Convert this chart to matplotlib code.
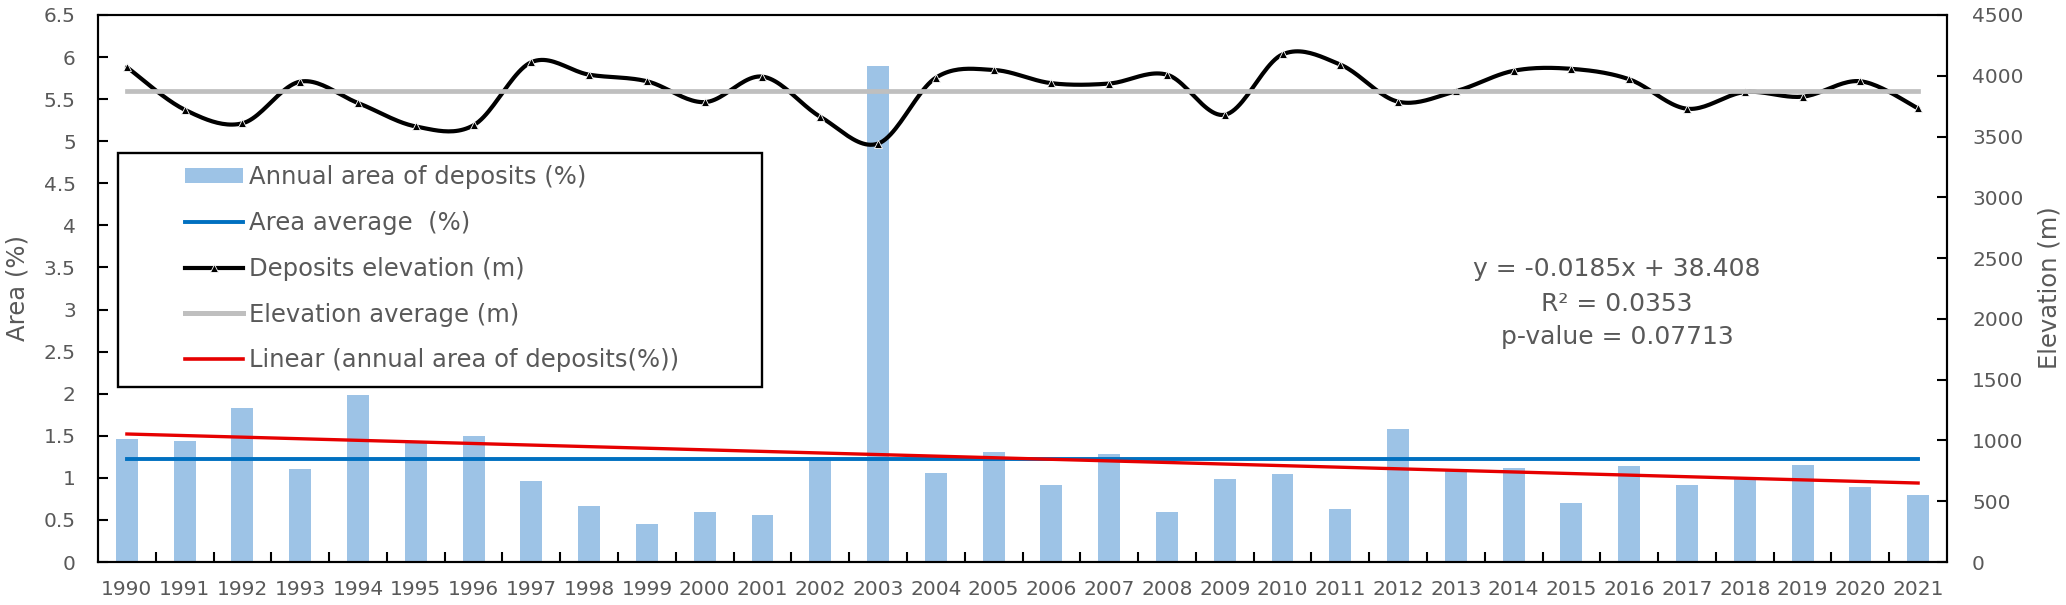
import numpy as np
import matplotlib
matplotlib.use("Agg")
import matplotlib.pyplot as plt
from matplotlib.patches import Rectangle
from matplotlib.lines import Line2D
from matplotlib.patches import Patch

# ---------------- data ----------------
years = [1990, 1991, 1992, 1993, 1994, 1995, 1996, 1997, 1998, 1999, 2000,
         2001, 2002, 2003, 2004, 2005, 2006, 2007, 2008, 2009, 2010, 2011,
         2012, 2013, 2014, 2015, 2016, 2017, 2018, 2019, 2020, 2021]
area_pct = [1.46, 1.44, 1.83, 1.10, 1.99, 1.43, 1.50, 0.96, 0.66, 0.45, 0.60,
            0.56, 1.25, 5.89, 1.06, 1.31, 0.92, 1.28, 0.60, 0.99, 1.05, 0.63,
            1.58, 1.09, 1.12, 0.70, 1.14, 0.92, 1.00, 1.15, 0.89, 0.80]
elevation_m = [4071, 3721, 3609, 3952, 3776, 3583, 3593, 4112, 4009, 3955, 3783,
               3993, 3663, 3442, 3984, 4048, 3939, 3936, 4009, 3679, 4176, 4092,
               3787, 3873, 4041, 4057, 3971, 3729, 3866, 3828, 3955, 3732]
left_ticks = [0, 0.5, 1, 1.5, 2, 2.5, 3, 3.5, 4, 4.5, 5, 5.5, 6, 6.5]
left_tick_labels = ["0", "0.5", "1", "1.5", "2", "2.5", "3", "3.5", "4",
                    "4.5", "5", "5.5", "6", "6.5"]
right_ticks = [0, 500, 1000, 1500, 2000, 2500, 3000, 3500, 4000, 4500]
legend_labels = ["Annual area of deposits (%)", "Area average  (%)",
                 "Deposits elevation (m)", "Elevation average (m)",
                 "Linear (annual area of deposits(%))"]
stats_lines = ["y = -0.0185x + 38.408", "R\u00b2 = 0.0353", "p-value = 0.07713"]

TXT = "#595959"
W, H = 2066, 605


def smooth_curve(xs, ys, n=24):
    """Excel-like smoothed line (cardinal Bezier through the points)."""
    xs = np.asarray(xs, float)
    ys = np.asarray(ys, float)
    px = np.concatenate([[xs[0]], xs, [xs[-1]]])
    py = np.concatenate([[ys[0]], ys, [ys[-1]]])
    outx, outy = [], []
    t = np.linspace(0, 1, n)
    for i in range(1, len(px) - 2):
        p0 = np.array([px[i], py[i]])
        p3 = np.array([px[i + 1], py[i + 1]])
        c1 = p0 + (np.array([px[i + 1], py[i + 1]]) - np.array([px[i - 1], py[i - 1]])) / 6
        c2 = p3 - (np.array([px[i + 2], py[i + 2]]) - np.array([px[i], py[i]])) / 6
        b = ((1 - t) ** 3)[:, None] * p0 + (3 * (1 - t) ** 2 * t)[:, None] * c1 + \
            (3 * (1 - t) * t ** 2)[:, None] * c2 + (t ** 3)[:, None] * p3
        outx.extend(b[:, 0])
        outy.extend(b[:, 1])
    return np.array(outx), np.array(outy)


fig = plt.figure(figsize=(W / 100, H / 100), dpi=100)
ax = fig.add_axes([98 / W, 1 - 562 / H, 1849 / W, 547 / H])
ax2 = ax.twinx()

x = np.arange(len(years))
yrs = np.array(years, float)
area = np.array(area_pct)
elev = np.array(elevation_m, float)

bars = ax.bar(x, area, width=0.38, color="#9DC3E6", zorder=1)
area_mean = area.mean()
ax.plot([x[0], x[-1]], [area_mean, area_mean], color="#0070C0", lw=2.8, zorder=2)
coef = np.polyfit(yrs, area, 1)
ax.plot(x, np.polyval(coef, yrs), color="#E60000", lw=2.4, zorder=3)

sx, sy = smooth_curve(x, elev)
ax2.plot(sx, sy, color="black", lw=3.0, zorder=2, solid_capstyle="round")
ax2.plot(x, elev, ls="none", marker="^", ms=6, mfc="black", mec="white",
         mew=0.6, zorder=3)
elev_mean = elev.mean()
ax2.plot([x[0], x[-1]], [elev_mean, elev_mean], color="#BFBFBF", lw=3.4, zorder=4)

ax.set_xlim(-0.5, len(years) - 0.5)
ax.set_ylim(0, 6.5)
ax2.set_ylim(0, 4500)

ax.set_xticks(x)
ax.set_xticklabels([str(y) for y in years])
ax.set_xticks(np.arange(0.5, len(years) - 1, 1), minor=True)
ax.tick_params(axis="x", which="major", length=0, pad=13, labelsize=14.5, labelcolor=TXT)
ax.tick_params(axis="x", which="minor", direction="in", length=7, width=1.5, color="black")
ax.set_yticks(left_ticks)
ax.set_yticklabels(left_tick_labels)
ax.tick_params(axis="y", direction="in", length=7, width=1.5, pad=16,
               labelsize=14.5, labelcolor=TXT)
ax2.set_yticks(right_ticks)
ax2.set_yticklabels([str(v) for v in right_ticks])
ax2.tick_params(axis="y", direction="in", length=7, width=1.5, pad=18,
                labelsize=14.5, labelcolor=TXT)
for a in (ax, ax2):
    for s in a.spines.values():
        s.set_color("black")
        s.set_linewidth(1.5)

fig.text(18 / W, 1 - 288 / H, "Area (%)", rotation=90, ha="center", va="center",
         fontsize=17.5, color=TXT)
fig.text(2049 / W, 1 - 288 / H, "Elevation (m)", rotation=90, ha="center", va="center",
         fontsize=17.5, color=TXT)

for txt, yy in zip(stats_lines, [269, 304, 337]):
    fig.text(1617 / W, 1 - yy / H, txt, ha="center", va="center", fontsize=18, color=TXT)

# legend
fig.add_artist(Rectangle((118 / W, 1 - 387 / H), 644 / W, 234 / H,
                         transform=fig.transFigure, facecolor="white",
                         edgecolor="black", lw=1.7, zorder=4))
handles = [
    Patch(facecolor="#9DC3E6", edgecolor="none"),
    Line2D([], [], color="#0070C0", lw=2.8),
    Line2D([], [], color="black", lw=3.0, marker="^", ms=6, mfc="black", mec="white", mew=0.6),
    Line2D([], [], color="#BFBFBF", lw=3.6),
    Line2D([], [], color="#E60000", lw=2.6),
]
leg = fig.legend(handles, legend_labels, loc="upper left",
                 bbox_to_anchor=(185 / W, 1 - 165 / H), frameon=False,
                 fontsize=17.5, handlelength=2.4, handleheight=0.6,
                 handletextpad=0.25, labelspacing=0.9, borderpad=0,
                 borderaxespad=0, labelcolor=TXT)
leg.set_zorder(5)

fig.savefig("out.png", dpi=100)
